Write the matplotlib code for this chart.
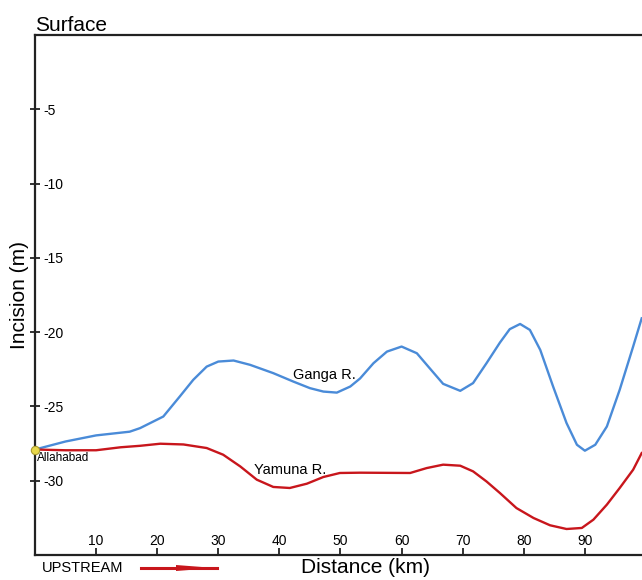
import numpy as np
import matplotlib
matplotlib.use("Agg")
import matplotlib.pyplot as plt

plt.rcParams['font.family'] = ['Liberation Sans', 'DejaVu Sans']
plt.rcParams['axes.unicode_minus'] = False

# incision profiles below the surface (m) against distance upstream of Allahabad (km)
ganga_km = [0, 5, 10, 15.5, 17.2, 21.0, 23.7, 25.9, 28.1, 30.0, 32.5, 35.2, 39.0, 42.3,
            45.0, 47.2, 49.4, 51.6, 53.2, 55.4, 57.6, 60.0, 62.5, 64.6, 66.8, 69.6, 71.7,
            73.9, 76.1, 77.7, 79.4, 81.0, 82.7, 84.8, 87.0, 88.7, 90.0, 91.7, 93.6, 95.7,
            97.9, 99.3]
ganga_m = [-27.9, -27.36, -26.95, -26.7, -26.46, -25.68, -24.33, -23.21, -22.32, -21.98,
           -21.91, -22.2, -22.76, -23.33, -23.77, -24.0, -24.07, -23.66, -23.12, -22.09,
           -21.31, -20.97, -21.42, -22.43, -23.48, -23.95, -23.43, -22.09, -20.7, -19.8,
           -19.45, -19.85, -21.2, -23.66, -26.12, -27.58, -27.98, -27.58, -26.35, -23.88,
           -20.97, -19.07]

yamuna_km = [0, 5, 10, 14, 17.2, 20.5, 24.3, 28.1, 30.8, 33.6, 36.3, 39.0, 41.7, 44.5,
             47.2, 49.9, 53.2, 61.4, 64.1, 66.8, 69.6, 71.7, 73.9, 76.1, 78.8, 81.6, 84.3,
             87.0, 89.5, 91.4, 93.6, 95.7, 97.9, 99.3]
yamuna_m = [-27.9, -27.95, -27.95, -27.75, -27.65, -27.51, -27.56, -27.8, -28.25, -29.04,
            -29.93, -30.42, -30.49, -30.2, -29.75, -29.48, -29.46, -29.48, -29.15, -28.92,
            -28.99, -29.37, -30.05, -30.83, -31.84, -32.51, -33.0, -33.25, -33.18, -32.62,
            -31.61, -30.49, -29.26, -28.14]

x_ticks = [10, 20, 30, 40, 50, 60, 70, 80, 90]
y_ticks = [-5, -10, -15, -20, -25, -30]

fig = plt.figure(figsize=(6.42, 5.80), dpi=100)
ax = fig.add_axes([35 / 642, 25 / 580, 607 / 642, 520 / 580])

ax.plot(ganga_km, ganga_m, color='#4a8bd8', lw=1.7, solid_joinstyle='round')
ax.plot(yamuna_km, yamuna_m, color='#c8161c', lw=1.7, solid_joinstyle='round')
ax.plot([0], [-27.9], 'o', ms=6, mfc='#e8d84a', mec='#a89a30', mew=0.8, clip_on=False, zorder=5)

ax.set_xlim(0, 99.35)
ax.set_ylim(-35, 0)

for side in ['left', 'bottom', 'top']:
    ax.spines[side].set_linewidth(1.6)
    ax.spines[side].set_color('#222222')
ax.spines['right'].set_visible(False)

ax.set_xticks(x_ticks)
ax.set_yticks(y_ticks)
ax.tick_params(axis='x', direction='in', length=5, width=1.3, color='#222222',
               labelsize=10, pad=-5.0)
ax.tick_params(axis='y', direction='inout', length=7, width=1.3, color='#222222',
               labelsize=10, pad=-9.5)
for lab in ax.get_xticklabels():
    lab.set_verticalalignment('bottom')
for lab in ax.get_yticklabels():
    lab.set_horizontalalignment('left')

ax.set_xlabel('Distance (km)', fontsize=15)
ax.xaxis.set_label_coords(0.544, -0.005, transform=ax.transAxes)
ax.xaxis.label.set_verticalalignment('top')
ax.set_ylabel('Incision (m)', fontsize=15)
ax.yaxis.set_label_coords(-0.026, 0.5)
ax.yaxis.label.set_verticalalignment('center')

ax.text(0, 0.3, 'Surface', fontsize=15, ha='left', va='baseline')
ax.text(42.2, -22.9, 'Ganga R.', fontsize=10.5, ha='left', va='center')
ax.text(35.8, -29.3, 'Yamuna R.', fontsize=10.5, ha='left', va='center')
ax.text(0.3, -28.5, 'Allahabad', fontsize=8.5, ha='left', va='center')

# upstream direction marker under the axis
fig.text(42 / 642, 1 - 568 / 580, 'UPSTREAM', fontsize=10.5, ha='left', va='center')
fig.lines.append(plt.Line2D([141 / 642, 217 / 642], [1 - 568 / 580] * 2,
                            transform=fig.transFigure, color='#c8161c', lw=2.2))
fig.patches.append(plt.Polygon([[176 / 642, 1 - 565 / 580], [206 / 642, 1 - 567.3 / 580],
                                [206 / 642, 1 - 568.7 / 580], [176 / 642, 1 - 571 / 580]],
                               closed=True, transform=fig.transFigure,
                               facecolor='#c8161c', edgecolor='none'))

fig.savefig('out.png', dpi=100)
